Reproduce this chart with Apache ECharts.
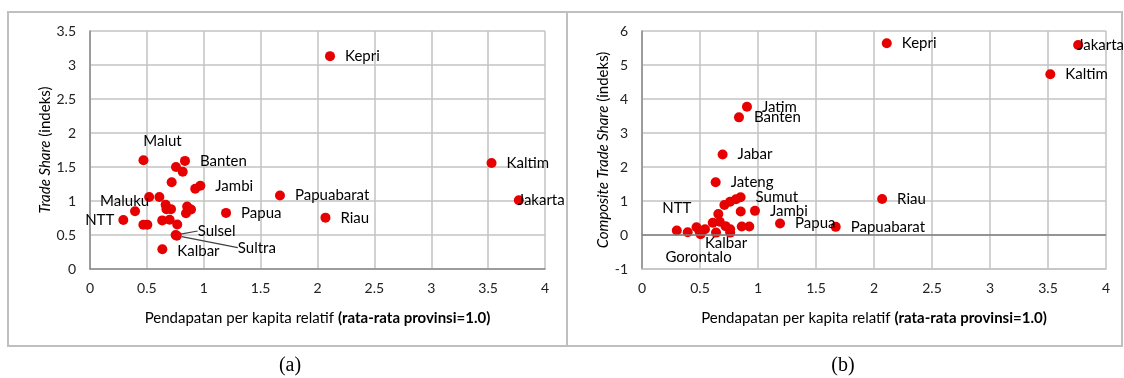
<!DOCTYPE html>
<html>
<head>
<meta charset="utf-8">
<script src="https://cdn.jsdelivr.net/npm/echarts@6/dist/echarts.min.js"></script>
<style>
html,body{margin:0;padding:0;background:#fff;}
#c{width:1124px;height:378px;}
</style>
</head>
<body>
<div id="c"></div>
<script>
// ---------- DATA ----------
// Panel (a): Trade Share vs relative per-capita income
const namesA = ["Kepri","Jakarta","Kaltim","Riau","Papuabarat","Papua","Malut","Banten","Jambi","Maluku","NTT","Sulsel","Sultra","Kalbar",
  "","","","","","","","","","","","","","","","",""];
const incomeA = [2.11,3.77,3.53,2.07,1.67,1.196,0.47,0.835,0.97,0.52,0.293,0.753,0.763,0.636,
  0.756,0.815,0.718,0.925,0.61,0.665,0.672,0.712,0.854,0.888,0.844,0.396,0.469,0.504,0.635,0.70,0.767];
const tradeShareA = [3.13,1.01,1.56,0.755,1.08,0.825,1.60,1.59,1.225,1.06,0.72,0.50,0.49,0.29,
  1.50,1.43,1.275,1.18,1.06,0.945,0.88,0.88,0.92,0.875,0.82,0.85,0.65,0.65,0.715,0.725,0.655];

// Panel (b): Composite Trade Share vs relative per-capita income
const namesB = ["Kepri","Jakarta","Kaltim","Riau","Papuabarat","Papua","Jatim","Banten","Jabar","Jateng","Sumut","Jambi","NTT","Kalbar","Gorontalo",
  "","","","","","","","","","","","","","","",""];
const incomeB = [2.11,3.76,3.52,2.07,1.67,1.19,0.905,0.836,0.695,0.635,0.85,0.974,0.30,0.638,0.505,
  0.394,0.47,0.543,0.61,0.67,0.658,0.71,0.759,0.81,0.851,0.72,0.76,0.76,0.86,0.925,0.495];
const compositeB = [5.64,5.59,4.73,1.06,0.24,0.34,3.77,3.46,2.37,1.55,1.11,0.71,0.13,0.07,0.02,
  0.08,0.23,0.17,0.36,0.39,0.62,0.88,0.98,1.05,0.69,0.26,0.17,0.07,0.25,0.25,0.12];

const xTicks = {min:0, max:4, interval:0.5};
const yTicksA = {min:0, max:3.5, interval:0.5};
const yTicksB = {min:-1, max:6, interval:1};

// ---------- STYLE ----------
const FONT = "Lato";
const RED = "#e60000";
const GRIDC = "#c3c3c3";
const AXISC = "#8a8a8a";

// label placements (style only)
const placeA = {
  Malut:{position:'top'},
  Maluku:{position:'left'},
  NTT:{position:'left'}
};
const moveA = {
  Malut:{dx:19, dy:3},
  Maluku:{dx:15, dy:4},
  NTT:{dx:6, dy:0},
  Jakarta:{dx:-16, dy:0},
  Kalbar:{dx:0, dy:2},
  Sulsel:{dx:7, dy:-4},
  Sultra:{dx:46, dy:12}
};
const leaderA = {Sulsel:true, Sultra:true};
const placeB = {
  Jakarta:{offset:[-16,0]},
  NTT:{position:'top', offset:[0,0]},
  Kalbar:{position:'bottom', distance:0, offset:[10,-2]},
  Gorontalo:{position:'bottom', offset:[-2,0]}
};

function buildData(names, xs, ys, place, leaders){
  return xs.map((x,i)=>{
    const n = names[i];
    const item = {name:n, value:[x, ys[i]]};
    if (n) {
      const p = place[n] || {};
      item.label = Object.assign({show:true, position:'right', distance:10}, p);
      if (leaders && leaders[n]) item.labelLine = {show:true, lineStyle:{color:'#404040', width:1.2}};
    } else {
      item.label = {show:false};
    }
    return item;
  });
}

const labelStyle = {fontFamily:FONT, fontSize:15, color:'#000', formatter:'{b}'};

function xAxisCfg(gridIndex, bottomColor){
  return {
    gridIndex, type:'value', min:xTicks.min, max:xTicks.max, interval:xTicks.interval,
    axisLine:{show:true, onZero:false, lineStyle:{color:bottomColor, width:1.5}},
    axisTick:{show:false},
    axisLabel:{fontFamily:FONT, fontSize:14, color:'#222', margin:12},
    splitLine:{show:true, lineStyle:{color:GRIDC, width:1.5}},
    name:'Pendapatan per kapita relatif {b|(rata-rata provinsi=1.0)}',
    nameLocation:'middle', nameGap:42,
    nameTextStyle:{fontFamily:FONT, fontSize:15, color:'#000',
      rich:{b:{fontFamily:FONT, fontSize:15, fontWeight:'bold', color:'#000'}}}
  };
}
function yAxisCfg(gridIndex, t, name, gap){
  return {
    gridIndex, type:'value', min:t.min, max:t.max, interval:t.interval,
    axisLine:{show:true, lineStyle:{color:AXISC, width:1.5}},
    axisTick:{show:false},
    axisLabel:{fontFamily:FONT, fontSize:14, color:'#222', margin:14},
    splitLine:{show:true, lineStyle:{color:GRIDC, width:1.5}},
    name:name, nameLocation:'middle', nameGap:gap,
    nameTextStyle:{fontFamily:FONT, fontSize:15, color:'#000',
      rich:{i:{fontFamily:FONT, fontSize:15, fontStyle:'italic', color:'#000'}}}
  };
}

const chart = echarts.init(document.getElementById('c'), null, {renderer:'canvas'});
chart.setOption({
  animation:false,
  backgroundColor:'#fff',
  grid:[
    {left:90, top:31, width:455, height:238},
    {left:642, top:31, width:464, height:238}
  ],
  xAxis:[ xAxisCfg(0, AXISC), xAxisCfg(1, GRIDC) ],
  yAxis:[
    yAxisCfg(0, yTicksA, '{i|Trade Share} (indeks)', 37),
    yAxisCfg(1, yTicksB, '{i|Composite Trade Share} (indeks)', 29)
  ],
  series:[
    {
      type:'scatter', xAxisIndex:1, yAxisIndex:1, data:[], z:1, silent:true,
      markLine:{silent:true, symbol:'none', label:{show:false},
        lineStyle:{color:'#7f7f7f', width:1.5, type:'solid'}, data:[{yAxis:0}]}
    },
    {
      type:'scatter', xAxisIndex:0, yAxisIndex:0, z:3,
      symbol:'circle', symbolSize:10, itemStyle:{color:RED, opacity:1},
      label:labelStyle,
      labelLayout:function(p){
        const m = moveA[namesA[p.dataIndex]];
        return m ? {dx:m.dx, dy:m.dy} : {};
      },
      data:buildData(namesA, incomeA, tradeShareA, placeA, leaderA)
    },
    {
      type:'scatter', xAxisIndex:1, yAxisIndex:1, z:3,
      symbol:'circle', symbolSize:10, itemStyle:{color:RED, opacity:1},
      label:labelStyle,
      data:buildData(namesB, incomeB, compositeB, placeB, null)
    }
  ],
  graphic:[
    {type:'rect', shape:{x:8, y:12, width:1114, height:334}, style:{fill:null, stroke:'#bfbfbf', lineWidth:2}, silent:true},
    {type:'line', shape:{x1:567, y1:12, x2:567, y2:346}, style:{stroke:'#bfbfbf', lineWidth:2}, silent:true},
    {type:'text', x:290, y:366, style:{text:'(a)', font:'20px "Liberation Serif"', fill:'#000', align:'center', verticalAlign:'middle'}},
    {type:'text', x:843, y:366, style:{text:'(b)', font:'20px "Liberation Serif"', fill:'#000', align:'center', verticalAlign:'middle'}}
  ]
});
</script>
</body>
</html>
